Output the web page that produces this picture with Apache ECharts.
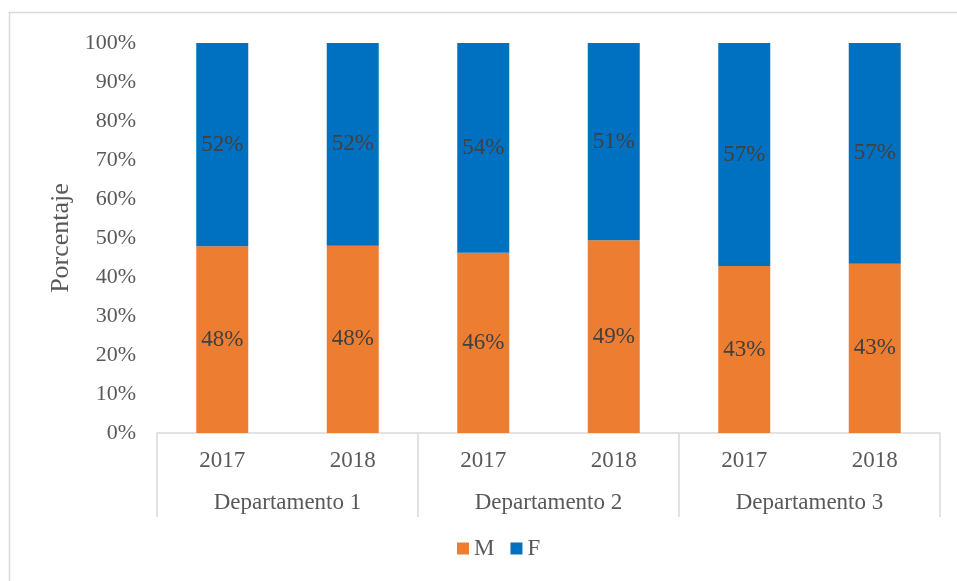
<!DOCTYPE html>
<html>
<head>
<meta charset="utf-8">
<script src="https://cdn.jsdelivr.net/npm/echarts@6/dist/echarts.min.js"></script>
<style>
	html, body { margin: 0; padding: 0; background: #fff; }
	#chart { width: 957px; height: 581px; }
</style>
</head>
<body>
<div id="chart"></div>
<script>
// años por departamento
var years = ['2017', '2018', '2017', '2018', '2017', '2018'];
var departments = ['Departamento 1', 'Departamento 2', 'Departamento 3'];
var valuesM = [47.9, 48.0, 46.2, 49.4, 42.8, 43.4];
var valuesF = [52.1, 52.0, 53.8, 50.6, 57.2, 56.6];
var yTicks = [0, 10, 20, 30, 40, 50, 60, 70, 80, 90, 100];

var FONT = '"Liberation Serif", "DejaVu Serif", serif';
var TEXT_COLOR = '#595959';

function barLabel() {
	return {
		show: true,
		position: 'inside',
		color: '#404040',
		fontFamily: FONT,
		fontSize: 23,
		formatter: function (p) {
			return Math.round(p.value) + '%';
		}
	};
}

var myChart = echarts.init(document.getElementById('chart'));
myChart.setOption({
	animation: false,
	backgroundColor: '#fff',
	graphic: [{
		type: 'rect',
		shape: { x: 9.5, y: 12.5, width: 1000, height: 600 },
		style: { fill: 'none', stroke: '#d9d9d9', lineWidth: 1.5 },
		silent: true
	}],
	grid: {
		left: 157,
		right: 17,
		top: 43,
		bottom: 148
	},
	legend: {
		bottom: 16,
		left: 452,
		itemWidth: 12,
		itemHeight: 12,
		itemGap: 16,
		icon: 'rect',
		textStyle: { color: TEXT_COLOR, fontFamily: FONT, fontSize: 23 },
		data: ['M', 'F']
	},
	xAxis: [{
		type: 'category',
		data: years,
		position: 'bottom',
		axisLine: { show: true, lineStyle: { color: '#d9d9d9', width: 1.5 } },
		axisTick: { show: false },
		axisLabel: {
			color: TEXT_COLOR,
			fontFamily: FONT,
			fontSize: 23,
			margin: 16
		},
		splitLine: { show: false }
	}, {
		type: 'category',
		data: departments,
		position: 'bottom',
		axisLine: { show: false },
		axisTick: { show: true, length: 84, lineStyle: { color: '#d9d9d9', width: 1.5 } },
		axisLabel: {
			color: TEXT_COLOR,
			fontFamily: FONT,
			fontSize: 23,
			margin: 58
		},
		splitLine: { show: false }
	}],
	yAxis: {
		type: 'value',
		min: yTicks[0],
		max: yTicks[yTicks.length - 1],
		interval: 10,
		name: 'Porcentaje',
		nameLocation: 'middle',
		nameGap: 79,
		nameTextStyle: { color: TEXT_COLOR, fontFamily: FONT, fontSize: 26 },
		axisLine: { show: false },
		axisTick: { show: false },
		splitLine: { show: false },
		axisLabel: {
			color: TEXT_COLOR,
			fontFamily: FONT,
			fontSize: 22,
			margin: 21,
			formatter: '{value}%'
		}
	},
	series: [{
		name: 'M',
		type: 'bar',
		stack: 'total',
		barWidth: 52,
		itemStyle: { color: '#ED7D31' },
		label: barLabel(),
		data: valuesM
	}, {
		name: 'F',
		type: 'bar',
		stack: 'total',
		barWidth: 52,
		itemStyle: { color: '#0070C0' },
		label: barLabel(),
		data: valuesF
	}]
});
</script>
</body>
</html>
